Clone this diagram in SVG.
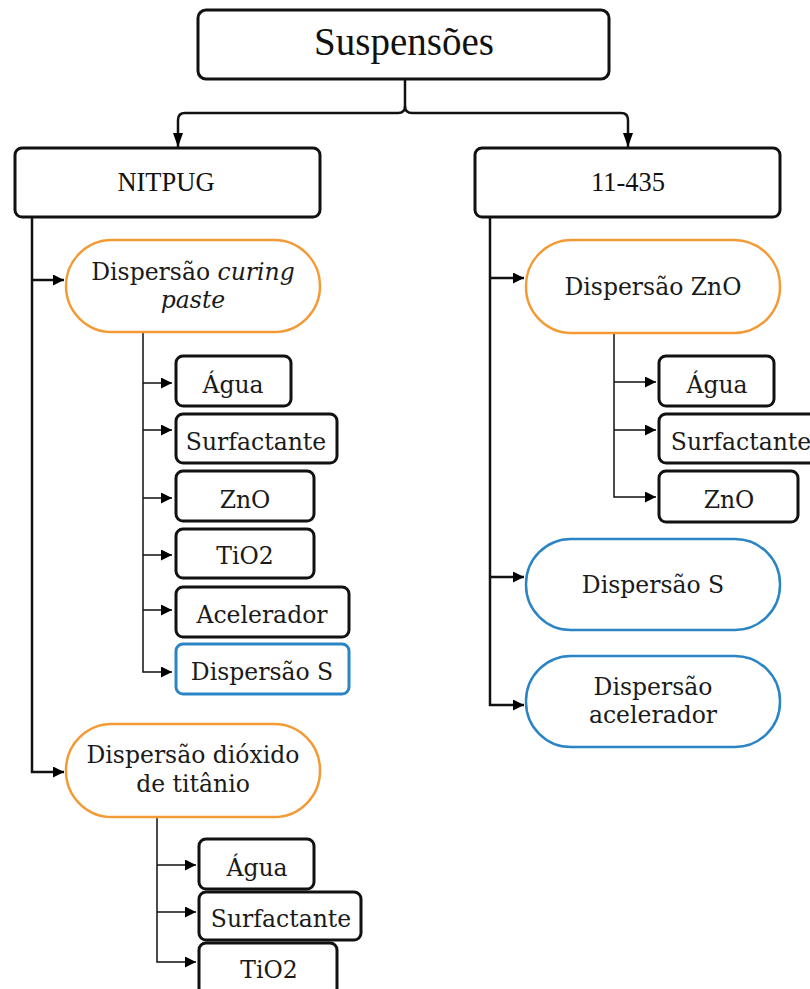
<svg xmlns="http://www.w3.org/2000/svg" width="810" height="989" viewBox="0 0 810 989">
<defs>
<marker id="ah" viewBox="0 0 10 10" refX="10" refY="5" markerWidth="11" markerHeight="11" markerUnits="userSpaceOnUse" orient="auto"><path d="M0,0 L10,5 L0,10 Z" fill="#000"/></marker>
<marker id="ahb" viewBox="0 0 10 14" refX="14" refY="7" markerWidth="14" markerHeight="14" markerUnits="userSpaceOnUse" orient="auto"><path d="M0,2 L14,7 L0,12 Z" fill="#000"/></marker>
<style>
.box{fill:#fff;stroke:#111;stroke-width:3}
.pillO{fill:#fff;stroke:#F39A35;stroke-width:2.5}
.pillB{fill:#fff;stroke:#2B85C4;stroke-width:2.5}
.boxB{fill:#fff;stroke:#2B85C4;stroke-width:3}
.t{font-family:"DejaVu Serif","Liberation Serif",serif;font-size:23.5px;fill:#1a1a1a;text-anchor:middle}
.tt{font-family:"Liberation Serif","Times New Roman",serif;fill:#111;text-anchor:middle}
.c{fill:none;stroke:#111;stroke-width:2.5}
.cs{fill:none;stroke:#111;stroke-width:1.5}
</style>
</defs>
<g id="connectors">
<path class="c" d="M405,80 V106 Q405,113 398,113 H185 Q178,113 178,120 V147" marker-end="url(#ahb)"/>
<path class="c" d="M405,106 Q405,113 412,113 H621 Q628,113 628,120 V147" marker-end="url(#ahb)"/>
<path class="c" d="M32,217 V772 H64" marker-end="url(#ah)"/>
<path class="c" d="M32,280 H64" marker-end="url(#ah)"/>
<path class="c" d="M490,217 V705 H524" marker-end="url(#ah)"/>
<path class="c" d="M490,278 H524" marker-end="url(#ah)"/>
<path class="c" d="M490,577 H524" marker-end="url(#ah)"/>
<path class="cs" d="M143,332 V672 H172" marker-end="url(#ah)"/>
<path class="cs" d="M143,383 H172" marker-end="url(#ah)"/>
<path class="cs" d="M143,430 H172" marker-end="url(#ah)"/>
<path class="cs" d="M143,498 H172" marker-end="url(#ah)"/>
<path class="cs" d="M143,555 H172" marker-end="url(#ah)"/>
<path class="cs" d="M143,610 H172" marker-end="url(#ah)"/>
<path class="cs" d="M614,333 V497 H656" marker-end="url(#ah)"/>
<path class="cs" d="M614,382 H656" marker-end="url(#ah)"/>
<path class="cs" d="M614,430 H656" marker-end="url(#ah)"/>
<path class="cs" d="M157,817 V962 H196" marker-end="url(#ah)"/>
<path class="cs" d="M157,865 H196" marker-end="url(#ah)"/>
<path class="cs" d="M157,912 H196" marker-end="url(#ah)"/>
</g>
<g id="suspensoes"><rect class="box" x="198" y="10" width="411" height="69" rx="8"/><text class="tt" x="404" y="55" font-size="39">Suspensões</text></g>
<g id="nitpug"><rect class="box" x="15" y="148" width="305" height="69" rx="7"/><text class="tt" x="166" y="191" font-size="26.5">NITPUG</text></g>
<g id="n11435"><rect class="box" x="475" y="148" width="305" height="69" rx="7"/><text class="tt" x="628" y="191" font-size="26.5">11-435</text></g>
<g id="curing"><rect class="pillO" x="66" y="240" width="254" height="92" rx="46"/><text class="t" x="193" y="280">Dispersão <tspan font-style="italic">curing</tspan></text><text class="t" x="193" y="308" font-style="italic">paste</text></g>
<g id="c-agua"><rect class="box" x="176" y="356" width="115" height="50" rx="7"/><text class="t" x="233" y="393">Água</text></g>
<g id="c-surf"><rect class="box" x="176" y="414" width="161" height="49" rx="7"/><text class="t" x="256" y="450">Surfactante</text></g>
<g id="c-zno"><rect class="box" x="176" y="471" width="138" height="50" rx="7"/><text class="t" x="245" y="508">ZnO</text></g>
<g id="c-tio2"><rect class="box" x="176" y="529" width="138" height="49" rx="7"/><text class="t" x="245" y="564">TiO2</text></g>
<g id="c-acel"><rect class="box" x="176" y="587" width="173" height="50" rx="7"/><text class="t" x="262" y="623">Acelerador</text></g>
<g id="c-dispS"><rect class="boxB" x="176" y="644" width="173" height="50" rx="7"/><text class="t" x="262" y="680">Dispersão S</text></g>
<g id="dioxido"><rect class="pillO" x="66" y="724" width="254" height="93" rx="46"/><text class="t" x="193" y="763">Dispersão dióxido</text><text class="t" x="193" y="792">de titânio</text></g>
<g id="d-agua"><rect class="box" x="199" y="839" width="115" height="50" rx="7"/><text class="t" x="257" y="876">Água</text></g>
<g id="d-surf"><rect class="box" x="199" y="892" width="162" height="48" rx="7"/><text class="t" x="281" y="927">Surfactante</text></g>
<g id="d-tio2"><rect class="box" x="199" y="943" width="138" height="52" rx="7"/><text class="t" x="269" y="978">TiO2</text></g>
<g id="zno"><rect class="pillO" x="526" y="240" width="254" height="93" rx="46"/><text class="t" x="653" y="295">Dispersão ZnO</text></g>
<g id="z-agua"><rect class="box" x="659" y="356" width="115" height="50" rx="7"/><text class="t" x="717" y="393">Água</text></g>
<g id="z-surf"><rect class="box" x="659" y="414" width="165" height="49" rx="7"/><text class="t" x="741" y="450">Surfactante</text></g>
<g id="z-zno"><rect class="box" x="659" y="471" width="139" height="51" rx="7"/><text class="t" x="729" y="508">ZnO</text></g>
<g id="dispS"><rect class="pillB" x="526" y="539" width="254" height="91" rx="45"/><text class="t" x="653" y="593">Dispersão S</text></g>
<g id="dispAcel"><rect class="pillB" x="526" y="656" width="254" height="91" rx="45"/><text class="t" x="653" y="695">Dispersão</text><text class="t" x="653" y="723">acelerador</text></g>
</svg>
